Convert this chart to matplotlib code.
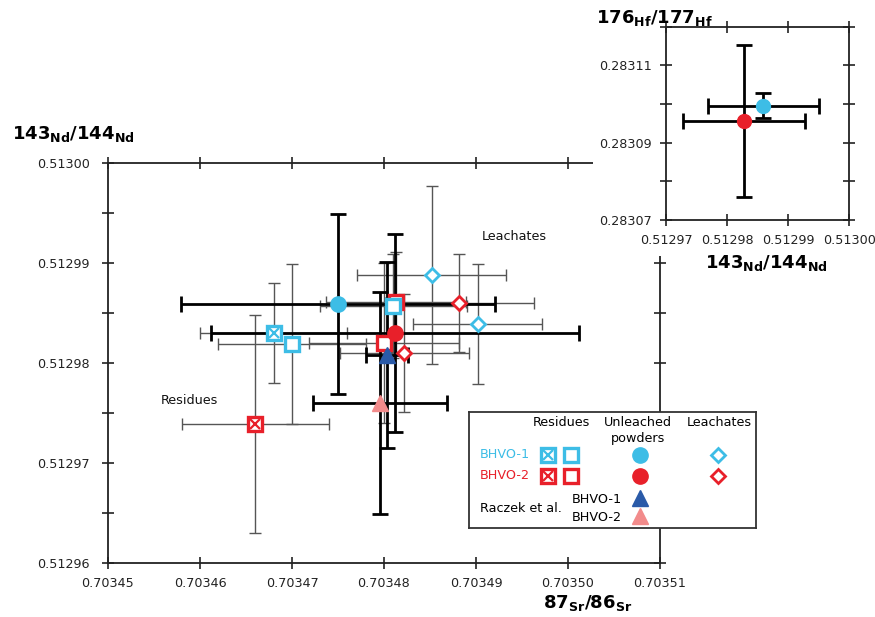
import matplotlib
matplotlib.use("Agg")
import matplotlib.pyplot as plt
import numpy as np
from matplotlib.patches import Rectangle

# ---------------- data ----------------
BLUE = "#3DBDE6"
RED = "#E8202A"
DBLUE = "#2A5AA8"
PINK = "#F28B8B"

# Unleached powders (BHVO-1, BHVO-2)
unl_sr = [0.7034750, 0.7034812]
unl_nd = [0.5129859, 0.5129830]
unl_sr_err = [0.0000171, 0.0000200]
unl_nd_err = [0.0000090, 0.0000099]

# Residues, hatched squares (BHVO-1, BHVO-2)
resx_sr = [0.7034680, 0.7034660]
resx_nd = [0.5129830, 0.5129739]
resx_sr_err = [0.0000080, 0.0000080]
resx_nd_err = [0.0000050, 0.0000109]

# Residues, open squares BHVO-1
res1_sr = [0.7034700, 0.7034810]
res1_nd = [0.5129819, 0.5129857]
res1_sr_err = [0.0000080, 0.0000080]
res1_nd_err = [0.0000080, 0.0000052]

# Residues, open squares BHVO-2
res2_sr = [0.7034800, 0.7034813]
res2_nd = [0.5129820, 0.5129861]
res2_sr_err = [0.0000081, 0.0000076]
res2_nd_err = [0.0000080, 0.0000050]

# Leachates BHVO-1
lea1_sr = [0.7034852, 0.7034902]
lea1_nd = [0.5129888, 0.5129839]
lea1_sr_err = [0.0000081, 0.0000070]
lea1_nd_err = [0.0000089, 0.0000060]

# Leachates BHVO-2
lea2_sr = [0.7034882, 0.7034822]
lea2_nd = [0.5129860, 0.5129810]
lea2_sr_err = [0.0000081, 0.0000070]
lea2_nd_err = [0.0000049, 0.0000059]

# Raczek et al. (BHVO-1, BHVO-2)
rac_sr = [0.7034803, 0.7034796]
rac_nd = [0.5129808, 0.5129760]
rac_sr_err = [0.0000023, 0.0000073]
rac_nd_err = [0.0000093, 0.0000111]

# Inset: Nd vs Hf (BHVO-1, BHVO-2)
ins_nd = [0.5129859, 0.5129828]
ins_hf = [0.2830996, 0.2830956]
ins_nd_err = [0.0000091, 0.0000100]
ins_hf_err = [0.0000032, 0.0000196]

x_ticks = [0.70345, 0.70346, 0.70347, 0.70348, 0.70349, 0.70350, 0.70351]
x_labels = ["0.70345", "0.70346", "0.70347", "0.70348", "0.70349", "0.70350", "0.70351"]
y_ticks = [0.51296, 0.51297, 0.51298, 0.51299, 0.51300]
y_labels = ["0.51296", "0.51297", "0.51298", "0.51299", "0.51300"]
y_minor = [0.512965, 0.512975, 0.512985, 0.512995]

ix_ticks = [0.51297, 0.51298, 0.51299, 0.51300]
ix_labels = ["0.51297", "0.51298", "0.51299", "0.51300"]
iy_ticks = [0.28307, 0.28308, 0.28309, 0.28310, 0.28311, 0.28312]
iy_labels = ["0.28307", "", "0.28309", "", "0.28311", ""]

# ---------------- figure ----------------
W, H = 875, 617
fig = plt.figure(figsize=(W / 100, H / 100), dpi=100)
fig.patch.set_facecolor("white")

def fx(px):
    return px / W

def fy(py):
    return 1 - py / H

ax = fig.add_axes([fx(108), fy(563), fx(660) - fx(108), fy(163) - fy(563)])
ax.set_zorder(1)
ax.set_xlim(0.70345, 0.70351)
ax.set_ylim(0.51296, 0.51300)
ax.set_xticks(x_ticks, x_labels)
ax.set_yticks(y_ticks, y_labels)
ax.set_yticks(y_minor, minor=True)
for s in ax.spines.values():
    s.set_linewidth(1.3)
    s.set_color("#222222")
ax.tick_params(which="both", direction="inout", length=8, width=1.2,
               top=True, right=True, labelsize=9.2, colors="#222222")
ax.tick_params(axis="y", pad=9)
ax.tick_params(axis="x", pad=6)

THIN = dict(fmt="none", ecolor="#555555", elinewidth=1.0, capsize=4.5, capthick=1.0, zorder=2)
THICK = dict(fmt="none", ecolor="#000000", elinewidth=2.0, capsize=5.5, capthick=2.0, zorder=2.5)

ax.errorbar(resx_sr, resx_nd, xerr=resx_sr_err, yerr=resx_nd_err, **THIN)
ax.errorbar(res1_sr, res1_nd, xerr=res1_sr_err, yerr=res1_nd_err, **THIN)
ax.errorbar(res2_sr, res2_nd, xerr=res2_sr_err, yerr=res2_nd_err, **THIN)
ax.errorbar(lea1_sr, lea1_nd, xerr=lea1_sr_err, yerr=lea1_nd_err, **THIN)
ax.errorbar(lea2_sr, lea2_nd, xerr=lea2_sr_err, yerr=lea2_nd_err, **THIN)
ax.errorbar(unl_sr, unl_nd, xerr=unl_sr_err, yerr=unl_nd_err, **THICK)
ax.errorbar(rac_sr, rac_nd, xerr=rac_sr_err, yerr=rac_nd_err, **THICK)

SQ = dict(marker="s", ms=10, mfc="white", mew=2.4, ls="none", zorder=4)
XM = dict(marker="x", ms=6.5, mew=1.6, ls="none", zorder=5)
DM = dict(marker="D", ms=7.2, mfc="white", mew=2.0, ls="none", zorder=4)

ax.plot(resx_sr[1], resx_nd[1], mec=RED, **SQ)
ax.plot(resx_sr[1], resx_nd[1], color=RED, **XM)
ax.plot(resx_sr[0], resx_nd[0], mec=BLUE, **SQ)
ax.plot(resx_sr[0], resx_nd[0], color=BLUE, **XM)
ax.plot(res2_sr, res2_nd, mec=RED, **SQ)
ax.plot(res1_sr, res1_nd, mec=BLUE, **SQ)
ax.plot(lea1_sr, lea1_nd, mec=BLUE, **DM)
ax.plot(lea2_sr, lea2_nd, mec=RED, **DM)
ax.plot(unl_sr[0], unl_nd[0], "o", ms=11, color=BLUE, zorder=4)
ax.plot(unl_sr[1], unl_nd[1], "o", ms=11, color=RED, zorder=4)
ax.plot(rac_sr[0], rac_nd[0], "^", ms=12, color=DBLUE, zorder=4)
ax.plot(rac_sr[1], rac_nd[1], "^", ms=12, color=PINK, zorder=4)

ax.text(0.7034588, 0.5129762, "Residues", fontsize=9.2, ha="center", va="center", color="#111111")
ax.text(0.7034942, 0.5129926, "Leachates", fontsize=9.2, ha="center", va="center", color="#111111")

fig.text(fx(12), fy(134), r"$\mathbf{143_{Nd}/144_{Nd}}$", fontsize=13, ha="left", va="center")
fig.text(fx(588), fy(603), r"$\mathbf{87_{Sr}/86_{Sr}}$", fontsize=13, ha="center", va="center")

# white area behind the inset
fig.patches.append(Rectangle((fx(593), fy(256)), 1 - fx(593), 1 - fy(256),
                             transform=fig.transFigure, facecolor="white",
                             edgecolor="none", zorder=2))

# ---------------- inset ----------------
ia = fig.add_axes([fx(666), fy(220), fx(849.3) - fx(666), fy(26.7) - fy(220)])
ia.set_zorder(3)
ia.set_xlim(0.51297, 0.51300)
ia.set_ylim(0.28307, 0.28312)
ia.set_xticks(ix_ticks, ix_labels)
ia.set_yticks(iy_ticks, iy_labels)
for s in ia.spines.values():
    s.set_linewidth(1.3)
    s.set_color("#222222")
ia.tick_params(direction="inout", length=8, width=1.2, top=True, right=True,
               labelsize=9.2, colors="#222222")
ia.tick_params(axis="y", pad=6)
ia.tick_params(axis="x", pad=6)
ia.errorbar(ins_nd, ins_hf, xerr=ins_nd_err, yerr=ins_hf_err, **THICK)
ia.plot(ins_nd[0], ins_hf[0], "o", ms=10, color=BLUE, zorder=4)
ia.plot(ins_nd[1], ins_hf[1], "o", ms=10, color=RED, zorder=4)

fig.text(fx(596), fy(18), r"$\mathbf{176_{Hf}/177_{Hf}}$", fontsize=13, ha="left", va="center", zorder=4)
fig.text(fx(766), fy(263), r"$\mathbf{143_{Nd}/144_{Nd}}$", fontsize=13, ha="center", va="center", zorder=4)

# ---------------- legend box ----------------
lg = fig.add_axes([fx(469), fy(528), fx(756) - fx(469), fy(412) - fy(528)])
lg.set_zorder(5)
lg.set_xlim(0, 287)
lg.set_ylim(116, 0)
lg.set_xticks([])
lg.set_yticks([])
lg.set_facecolor("white")
for s in lg.spines.values():
    s.set_linewidth(1.3)
    s.set_color("#333333")

fs = 9.2
lg.text(92, 10, "Residues", fontsize=fs, ha="center", va="center")
lg.text(169, 10, "Unleached", fontsize=fs, ha="center", va="center")
lg.text(169, 26.5, "powders", fontsize=fs, ha="center", va="center")
lg.text(250, 10, "Leachates", fontsize=fs, ha="center", va="center")
lg.text(11, 42.5, "BHVO-1", fontsize=fs, ha="left", va="center", color=BLUE)
lg.text(11, 63.5, "BHVO-2", fontsize=fs, ha="left", va="center", color=RED)
lg.text(11, 96.5, "Raczek et al.", fontsize=fs, ha="left", va="center")
lg.text(103, 87.5, "BHVO-1", fontsize=fs, ha="left", va="center")
lg.text(103, 105.5, "BHVO-2", fontsize=fs, ha="left", va="center")

for yy, col in [(42.5, BLUE), (63.5, RED)]:
    lg.plot(78.5, yy, mec=col, **SQ)
    lg.plot(78.5, yy, color=col, **XM)
    lg.plot(102, yy, mec=col, **SQ)
    lg.plot(171, yy, "o", ms=11, color=col)
    lg.plot(249, yy, mec=col, **DM)
lg.plot(171, 86, "^", ms=12, color=DBLUE)
lg.plot(171, 104, "^", ms=12, color=PINK)

fig.savefig("out.png", dpi=100, facecolor="white")
